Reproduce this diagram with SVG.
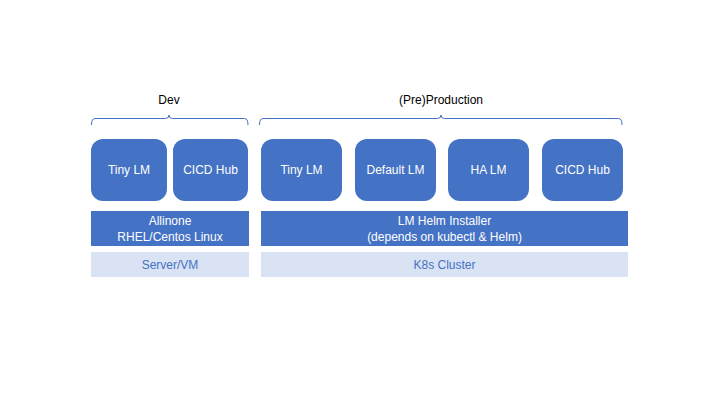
<svg xmlns="http://www.w3.org/2000/svg" width="720" height="405" viewBox="0 0 720 405">
<style>
text{font-family:"Liberation Sans",Arial,sans-serif;font-size:12px;text-anchor:middle}
.box{fill:#4472C4}
.lite{fill:#DAE3F3}
.w{fill:#ffffff}
.b{fill:#4472C4}
.k{fill:#000000}
.brace{fill:none;stroke:#4472C4;stroke-width:1}
</style>
<rect width="720" height="405" fill="#ffffff"/>
<g id="connectors">
<path class="brace" d="M91.5,125 Q91.5,118.5 95,118.5 L165.5,118.5 Q169,118.5 169,115 Q169,118.5 172.5,118.5 L244.5,118.5 Q248,118.5 248,125"/>
<path class="brace" d="M259.5,125 Q259.5,118.5 263,118.5 L437.5,118.5 Q441,118.5 441,115 Q441,118.5 444.5,118.5 L618.5,118.5 Q622,118.5 622,125"/>
</g>
<g id="label-dev"><text class="k" x="169" y="104">Dev</text></g>
<g id="label-prod"><text class="k" x="441" y="104">(Pre)Production</text></g>
<g id="dev-tiny"><rect class="box" x="91" y="139" width="76" height="62" rx="12"/><text class="w" x="129" y="174">Tiny LM</text></g>
<g id="dev-cicd"><rect class="box" x="173" y="139" width="75" height="62" rx="12"/><text class="w" x="210.5" y="174">CICD Hub</text></g>
<g id="prod-tiny"><rect class="box" x="261" y="139" width="81" height="62" rx="12"/><text class="w" x="301.5" y="174">Tiny LM</text></g>
<g id="prod-default"><rect class="box" x="355" y="139" width="81" height="62" rx="12"/><text class="w" x="395.5" y="174">Default LM</text></g>
<g id="prod-ha"><rect class="box" x="448" y="139" width="81" height="62" rx="12"/><text class="w" x="488.5" y="174">HA LM</text></g>
<g id="prod-cicd"><rect class="box" x="542" y="139" width="81" height="62" rx="12"/><text class="w" x="582.5" y="174">CICD Hub</text></g>
<g id="allinone"><rect class="box" x="91" y="211" width="158" height="35"/><text class="w" x="170" y="225">Allinone</text><text class="w" x="170" y="241">RHEL/Centos Linux</text></g>
<g id="helm"><rect class="box" x="261" y="211" width="367" height="35"/><text class="w" x="444.5" y="225">LM Helm Installer</text><text class="w" x="444.5" y="241">(depends on kubectl &amp; Helm)</text></g>
<g id="server"><rect class="lite" x="91" y="252" width="158" height="25"/><text class="b" x="170" y="269">Server/VM</text></g>
<g id="k8s"><rect class="lite" x="261" y="252" width="367" height="25"/><text class="b" x="444.5" y="269">K8s Cluster</text></g>
</svg>
